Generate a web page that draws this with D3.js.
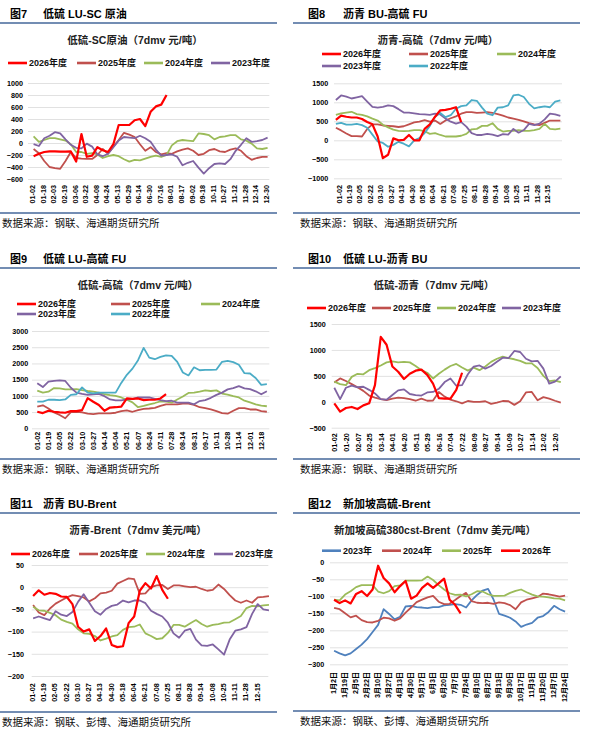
<!DOCTYPE html>
<html>
<head>
<meta charset="utf-8">
<script src="https://cdn.jsdelivr.net/npm/d3@7"></script>
<style>
body { margin: 0; background: #fff; }
svg text { font-family: "Liberation Sans", "Noto Sans CJK SC", sans-serif; }
</style>
</head>
<body>
<svg width="590" height="737"></svg>
<script>
// tick labels
let ticksA = ['01-02','01-18','02-03','02-19','03-06','03-22','04-08','04-24','05-13','05-29','06-14','06-30','07-16','08-01','08-17','09-02','09-18','10-11','10-27','11-12','11-28','12-14','12-30']
let ticksB = ['01-02','01-19','02-05','02-22','03-10','03-27','04-13','04-30','05-18','06-04','06-21','07-08','07-25','08-11','08-28','09-14','10-08','10-25','11-11','11-28','12-15']
let ticksC = ['01-02','01-19','02-05','02-22','03-10','03-27','04-14','05-04','05-21','06-07','06-24','07-11','07-28','08-14','08-31','09-17','10-11','10-28','11-14','12-01','12-18']
let ticksD = ['01-02','01-20','02-07','02-25','03-14','04-01','04-20','05-11','05-29','06-16','07-04','07-22','08-09','08-27','09-14','10-09','10-27','11-14','12-02','12-20']
let ticksE = ['1月2日','1月19日','2月5日','2月22日','3月10日','3月27日','4月13日','4月30日','5月17日','6月3日','6月20日','7月7日','7月24日','8月10日','8月27日','9月13日','9月30日','10月17日','11月3日','11月20日','12月7日','12月24日']

// series values, one point every half tick interval
// fig 7  LU-SC
let lusc2026 = [-220,-180,-150,-140,-140,-145,-145,-140,-310,150,-230,-210,-70,-120,-150,-20,300,300,300,380,400,280,520,610,640,800]
let lusc2025 = [-100,-170,-300,-400,-420,-430,-300,-150,-250,-260,-265,-265,-200,-100,-180,-60,50,170,140,100,-20,-130,-70,-150,-190,-170,-180,-140,-110,-90,-130,-200,-180,-120,-100,-140,-150,-110,-90,-130,-220,-280,-250,-230,-230]
let lusc2024 = [110,20,50,80,80,60,40,-20,-150,-150,-180,-170,-190,-250,-220,-200,-220,-270,-310,-280,-290,-260,-230,-210,-230,-200,-40,30,50,40,30,160,150,130,60,100,110,130,130,60,40,-10,-90,-100,-80]
let lusc2023 = [-20,-50,80,120,180,160,60,-30,-80,-90,-10,-60,-190,-220,-180,-70,40,100,90,80,120,80,20,-110,-210,-200,-190,-230,-370,-330,-300,-410,-510,-420,-350,-340,-350,-270,-130,-30,80,20,30,50,90]

// fig 8  BU-FU
let bufu2026 = [540,650,620,600,600,560,480,420,100,-470,-380,50,0,10,140,0,0,300,420,620,790,800,830,870,480]
let bufu2025 = [330,260,180,110,110,100,300,420,420,390,380,370,350,370,420,470,490,530,490,520,430,520,580,630,700,740,740,720,730,740,720,690,650,600,570,540,500,450,420,400,460,520,520,520]
let bufu2024 = [670,710,730,750,690,670,630,570,520,410,340,280,250,240,250,270,270,240,170,190,140,100,100,100,120,170,290,300,380,380,450,300,230,250,250,270,250,250,270,300,430,300,290,310]
let bufu2023 = [1060,1180,1150,1100,1130,1160,1020,880,860,880,920,900,820,730,730,710,690,680,670,700,680,570,490,440,480,360,190,140,140,170,150,110,160,150,300,200,270,430,400,440,550,700,680,640]
let bufu2022 = [430,460,410,410,430,400,330,150,-30,-70,-170,-120,-40,-90,-160,0,60,190,380,620,720,610,660,830,900,920,1060,1040,860,700,660,860,870,920,1180,1200,1140,960,840,870,890,870,1020,1050]

// fig 9  LU-FU
let lufu2026 = [510,470,540,510,490,480,530,530,560,930,820,720,540,640,650,670,920,910,920,870,880,880,920,1050]
let lufu2025 = [670,710,610,490,410,310,500,510,490,450,440,460,460,460,480,530,550,510,560,600,610,630,690,740,740,740,760,760,720,650,620,580,530,470,450,540,620,620,580,580,530,510]
let lufu2024 = [1160,1100,1130,1240,1230,1200,1200,1210,1180,1150,1130,1100,1050,1020,1000,950,880,800,650,690,740,780,830,820,790,890,980,1090,1100,1130,1170,1150,1170,1070,1040,990,950,850,800,740,700,680]
let lufu2023 = [1390,1270,1440,1460,1480,1460,1250,1100,1060,1030,1050,1060,990,890,860,860,890,900,950,950,950,910,870,840,850,790,790,790,740,840,870,940,1030,1100,1200,1240,1300,1230,1210,1140,1050,1140]
let lufu2022 = [820,820,880,880,870,890,1030,1050,1260,1100,1080,1100,1100,1100,1100,1400,1650,1840,2100,2480,2180,2130,2200,2250,2230,2050,1720,1630,1880,1790,1800,1800,1810,2050,2080,2040,1960,1700,1690,1550,1340,1360]

// fig 10  LU-BU
let lubu2026 = [-30,-190,-120,-100,-140,-70,-30,320,1250,1100,680,580,440,540,600,620,520,350,70,60,60,230,560]
let lubu2025 = [370,450,400,340,280,210,120,80,50,30,60,80,70,50,20,60,20,25,190,100,40,10,-30,15,0,0,10,-40,-15,15,10,-60,10,180,190,30,90,60,20,-15]
let lubu2024 = [390,340,320,480,540,530,610,650,700,760,780,760,770,760,690,610,560,450,540,620,690,730,660,600,660,610,680,770,830,870,840,820,790,740,740,650,500,400,410,380]
let lubu2023 = [270,50,270,310,280,290,230,160,50,40,130,220,240,150,130,120,180,190,250,380,450,310,320,530,680,700,640,690,770,850,840,980,960,830,780,790,640,350,390,490]

// fig 11  BU-Brent
let bubr2026 = [-20,-7,-17,-13,-15,-21,-22,-38,-89,-100,-95,-121,-110,-93,-130,-135,-133,-81,-66,-8,9,-3,25,-6,-26]
let bubr2025 = [-40,-57,-63,-48,-37,-30,-23,-18,-20,-23,-32,-25,-14,-12,-8,8,14,20,18,-15,-14,0,4,5,-4,4,4,2,0,1,-4,-8,-6,6,-4,-18,-30,-35,-30,-35,-23,-22,-20]
let bubr2024 = [-44,-52,-53,-58,-63,-73,-78,-82,-95,-104,-105,-110,-120,-116,-111,-108,-96,-90,-89,-84,-104,-110,-117,-115,-103,-85,-85,-89,-81,-74,-83,-89,-85,-83,-80,-79,-72,-65,-47,-42,-43,-41,-40]
let bubr2023 = [-70,-66,-70,-74,-54,-62,-65,-56,-33,-16,-35,-54,-62,-49,-42,-39,-30,-34,-30,-30,-36,-53,-60,-66,-80,-104,-114,-98,-94,-118,-131,-132,-129,-140,-152,-118,-98,-95,-90,-60,-38,-50,-52]

// fig 12  Singapore 380cst-Brent
let sgbr2023 = [-260,-268,-274,-268,-255,-242,-226,-205,-184,-138,-152,-168,-160,-130,-128,-132,-133,-135,-132,-132,-127,-125,-123,-125,-133,-112,-96,-83,-78,-110,-152,-157,-163,-174,-190,-183,-178,-163,-158,-146,-128,-138,-145]
let sgbr2024 = [-134,-138,-150,-162,-157,-170,-176,-177,-172,-163,-165,-172,-165,-148,-133,-117,-110,-103,-99,-116,-123,-122,-111,-99,-90,-114,-119,-120,-119,-122,-118,-120,-126,-138,-118,-110,-106,-102,-92,-94,-97,-101,-98]
let sgbr2025 = [-110,-112,-95,-85,-73,-67,-67,-67,-86,-91,-85,-70,-68,-54,-54,-54,-53,-42,-52,-67,-80,-91,-96,-95,-100,-94,-85,-86,-94,-99,-99,-98,-90,-84,-80,-88,-95,-100,-101,-103,-106,-107,-112]
let sgbr2026 = [-110,-120,-112,-121,-93,-85,-99,-80,-10,-46,-62,-88,-70,-55,-107,-98,-75,-62,-75,-62,-48,-110,-125,-150]

// colours
let RED = '#FF0000', BROWN = '#C0504D', GREEN = '#9BBB59', PURPLE = '#8064A2', CYAN = '#4BACC6', BLUE = '#4F81BD'
let RULE = '#44679A'

let src1 = '数据来源：钢联、海通期货研究所'
let src2 = '数据来源：钢联、彭博、海通期货研究所'

let panels = [
  { ox: 0, oy: 0, right: false, fig: '图7', name: '低硫 LU-SC 原油', title: '低硫-SC原油（7dmv 元/吨）', titleX: 135,
    ticks: ticksA, start: 0.15, xr: [32, 266], yDomain: [-600, 1000], yr: [179, 83], yStep: 200, labelX: 23, xLabelY: 185,
    grid: [28, 269.3], bottom: 213, source: src1,
    series: [
      { name: '2026年度', v: lusc2026, c: RED, lx: 29, ly: 63 },
      { name: '2025年度', v: lusc2025, c: BROWN, lx: 98, ly: 63 },
      { name: '2024年度', v: lusc2024, c: GREEN, lx: 165, ly: 63 },
      { name: '2023年度', v: lusc2023, c: PURPLE, lx: 232, ly: 63 }] },
  { ox: 295, oy: 0, right: true, fig: '图8', name: '沥青 BU-高硫 FU', title: '沥青-高硫（7dmv 元/吨）', titleX: 143,
    ticks: ticksB, start: -0.25, xr: [43.5, 252.3], yDomain: [-1000, 1500], yr: [178.3, 83.3], yStep: 500, labelX: 33.3, xLabelY: 185,
    grid: [39, 267], bottom: 213, source: src1,
    series: [
      { name: '2026年度', v: bufu2026, c: RED, lx: 48, ly: 54 },
      { name: '2025年度', v: bufu2025, c: BROWN, lx: 135, ly: 54 },
      { name: '2024年度', v: bufu2024, c: GREEN, lx: 223, ly: 54 },
      { name: '2023年度', v: bufu2023, c: PURPLE, lx: 48, ly: 66 },
      { name: '2022年度', v: bufu2022, c: CYAN, lx: 135, ly: 66 }] },
  { ox: 0, oy: 245, right: false, fig: '图9', name: '低硫 LU-高硫 FU', title: '低硫-高硫（7dmv 元/吨）', titleX: 138,
    ticks: ticksC, start: 0.05, xr: [36.7, 260.7], yDomain: [0, 3000], yr: [183.3, 86], yStep: 500, labelX: 28.3, xLabelY: 186.7,
    grid: [32, 269.3], bottom: 214, source: src1,
    series: [
      { name: '2026年度', v: lufu2026, c: RED, lx: 38, ly: 59 },
      { name: '2025年度', v: lufu2025, c: BROWN, lx: 132, ly: 59 },
      { name: '2024年度', v: lufu2024, c: GREEN, lx: 222, ly: 59 },
      { name: '2023年度', v: lufu2023, c: PURPLE, lx: 38, ly: 69 },
      { name: '2022年度', v: lufu2022, c: CYAN, lx: 132, ly: 69 }] },
  { ox: 295, oy: 245, right: true, fig: '图10', name: '低硫 LU-沥青 BU', title: '低硫-沥青（7dmv 元/吨）', titleX: 139,
    ticks: ticksD, start: 0, xr: [39.3, 260], yDomain: [-500, 1500], yr: [182.7, 79], yStep: 500, labelX: 30.7, xLabelY: 188.3,
    grid: [36.7, 265], bottom: 214, source: src1,
    series: [
      { name: '2026年度', v: lubu2026, c: RED, lx: 33, ly: 63 },
      { name: '2025年度', v: lubu2025, c: BROWN, lx: 98, ly: 63 },
      { name: '2024年度', v: lubu2024, c: GREEN, lx: 163, ly: 63 },
      { name: '2023年度', v: lubu2023, c: PURPLE, lx: 228, ly: 63 }] },
  { ox: 0, oy: 490, right: false, fig: '图11', name: '沥青 BU-Brent', title: '沥青-Brent（7dmv 美元/吨）', titleX: 138,
    ticks: ticksB, start: 0.1, xr: [32, 256.6], yDomain: [-200, 50], yr: [186, 75], yStep: 50, labelX: 24, xLabelY: 193.3,
    grid: [31.7, 268.3], bottom: 222, source: src2,
    series: [
      { name: '2026年度', v: bubr2026, c: RED, lx: 32, ly: 64 },
      { name: '2025年度', v: bubr2025, c: BROWN, lx: 100, ly: 64 },
      { name: '2024年度', v: bubr2024, c: GREEN, lx: 167, ly: 64 },
      { name: '2023年度', v: bubr2023, c: PURPLE, lx: 235, ly: 64 }] },
  { ox: 295, oy: 490, right: true, fig: '图12', name: '新加坡高硫-Brent', title: '新加坡高硫380cst-Brent（7dmv 美元/吨）', titleX: 140,
    ticks: ticksE, start: 0.1, xr: [38, 269], yDomain: [-300, 0], yr: [174.3, 72.3], yStep: 50, labelX: 29.3, xLabelY: 181.7,
    grid: [35, 273], bottom: 221, source: src2,
    series: [
      { name: '2023年', v: sgbr2023, c: BLUE, lx: 48, ly: 60.7 },
      { name: '2024年', v: sgbr2024, c: BROWN, lx: 108, ly: 60.7 },
      { name: '2025年', v: sgbr2025, c: GREEN, lx: 168, ly: 60.7 },
      { name: '2026年', v: sgbr2026, c: RED, lx: 227, ly: 60.7 }] }
]

let svg = d3.select('svg')

let drawPanel = (p) => {
  let g = svg.append('g').attr('transform', 'translate(' + p.ox + ',' + p.oy + ')')

  // header + rules
  let ruleX = p.right ? [-2, 285] : [0, 277]
  g.append('text').attr('x', p.right ? 13 : 10).attr('y', 18)
    .attr('font-size', 11).attr('font-weight', 'bold').text(p.fig)
  g.append('text').attr('x', p.right ? 48 : 43).attr('y', 18)
    .attr('font-size', 11).attr('font-weight', 'bold').text(p.name)
  g.append('line').attr('x1', ruleX[0]).attr('x2', ruleX[1]).attr('y1', 23).attr('y2', 23)
    .attr('stroke', RULE).attr('stroke-width', 1.5)
  g.append('line').attr('x1', ruleX[0]).attr('x2', ruleX[1]).attr('y1', p.bottom).attr('y2', p.bottom)
    .attr('stroke', RULE).attr('stroke-width', 1.5)
  g.append('text').attr('x', p.right ? 5 : 2).attr('y', p.bottom + 14)
    .attr('font-size', 10.5).attr('fill', '#111').text(p.source)

  // chart title
  g.append('text').attr('x', p.titleX).attr('y', 44).attr('text-anchor', 'middle')
    .attr('font-size', 10.5).attr('font-weight', 'bold').attr('fill', '#222').text(p.title)

  // scales
  let xScale = d3.scaleLinear().domain([0, p.ticks.length - 1]).range(p.xr)
  let yScale = d3.scaleLinear().domain(p.yDomain).range(p.yr)
  let yTicks = d3.range(p.yDomain[0], p.yDomain[1] + 1, p.yStep)

  // gridlines
  let grid = g.append('g').attr('transform', 'translate(' + p.grid[0] + ',0)')
    .call(d3.axisLeft(yScale).tickValues(yTicks).tickSize(-(p.grid[1] - p.grid[0])).tickFormat(''))
  grid.select('.domain').remove()
  grid.selectAll('line').attr('stroke', '#D9D9D9').attr('stroke-width', 0.8)

  // y axis
  let yAxis = g.append('g').attr('transform', 'translate(' + p.labelX + ',0)')
    .call(d3.axisLeft(yScale).tickValues(yTicks).tickFormat(d3.format('d')).tickSize(0).tickPadding(0))
  yAxis.select('.domain').remove()
  yAxis.attr('font-family', null).attr('font-size', null)
  yAxis.selectAll('text').attr('font-size', 7.2).attr('font-weight', 'bold').attr('fill', '#000')

  // x axis, labels rotated
  let xAxis = g.append('g').attr('transform', 'translate(0,' + p.xLabelY + ')')
    .call(d3.axisBottom(xScale).tickValues(d3.range(p.ticks.length)).tickFormat(i => p.ticks[i]).tickSize(0))
  xAxis.select('.domain').remove()
  xAxis.attr('font-family', null).attr('font-size', null)
  xAxis.selectAll('text')
    .attr('y', 0).attr('x', 0).attr('dy', '0.35em')
    .attr('transform', 'rotate(-90)')
    .attr('text-anchor', 'end')
    .attr('font-family', '"DejaVu Sans", "Noto Sans CJK SC", sans-serif')
    .attr('font-size', 7.2).attr('font-weight', 'bold').attr('fill', '#000')

  // lines
  let line = d3.line()
    .x((d, i) => xScale(p.start + i * 0.5))
    .y(d => yScale(d))
  let order = p.series.slice().sort((a, b) => (a.c === RED) - (b.c === RED))
  order.forEach(s => {
    g.append('path').datum(s.v)
      .attr('d', line)
      .attr('fill', 'none')
      .attr('stroke', s.c)
      .attr('stroke-width', s.c === RED ? 2.2 : 1.8)
      .attr('stroke-linejoin', 'round')
  })

  // legend
  p.series.forEach(s => {
    g.append('line').attr('x1', s.lx - 21).attr('x2', s.lx - 2).attr('y1', s.ly).attr('y2', s.ly)
      .attr('stroke', s.c).attr('stroke-width', 2.6)
    g.append('text').attr('x', s.lx).attr('y', s.ly).attr('dy', '0.35em')
      .attr('font-size', 9).attr('font-weight', 'bold').attr('fill', '#111').text(s.name)
  })
}

panels.forEach(drawPanel)
</script>
</body>
</html>
